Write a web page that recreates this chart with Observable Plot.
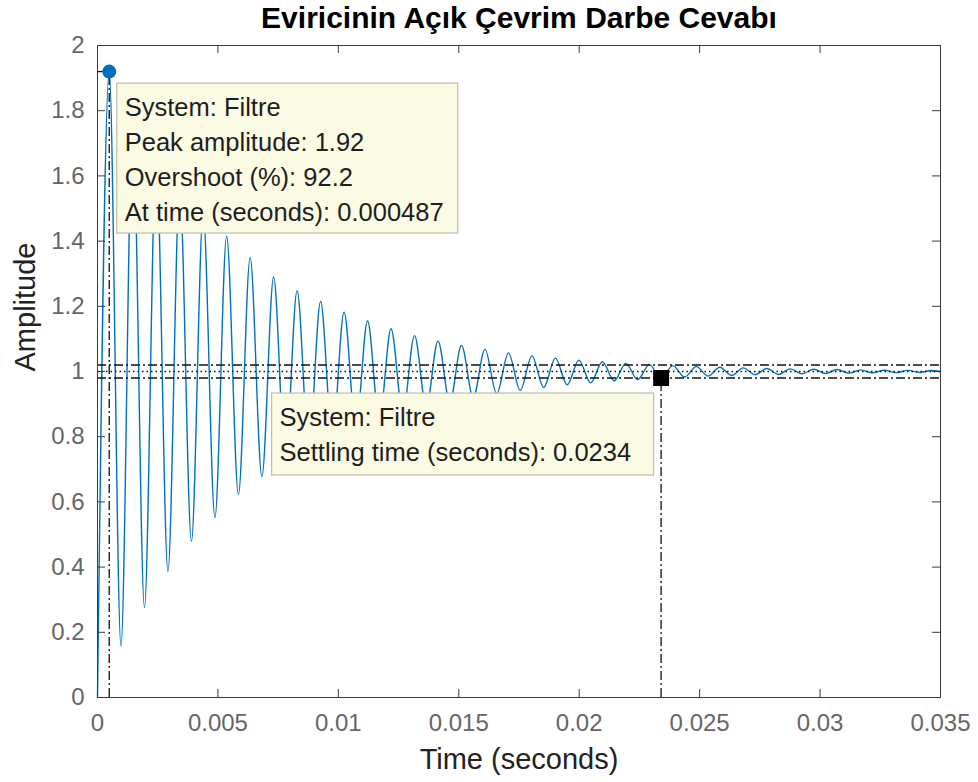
<!DOCTYPE html>
<html><head><meta charset="utf-8">
<script src="https://cdn.jsdelivr.net/npm/d3@7"></script>
<script src="https://cdn.jsdelivr.net/npm/@observablehq/plot@0.6"></script>
<style>html,body{margin:0;padding:0;background:#fff;}</style>
</head><body><div id="chart"></div>
<script>
// ---- data ----
const titleText = "Eviricinin Açık Çevrim Darbe Cevabı";
const xLabel = "Time (seconds)";
const yLabel = "Amplitude";
const xTicks = [0, 0.005, 0.01, 0.015, 0.02, 0.025, 0.03, 0.035];
const xTickLabels = ["0", "0.005", "0.01", "0.015", "0.02", "0.025", "0.03", "0.035"];
const yTicks = [0, 0.2, 0.4, 0.6, 0.8, 1, 1.2, 1.4, 1.6, 1.8, 2];
const yTickLabels = ["0", "0.2", "0.4", "0.6", "0.8", "1", "1.2", "1.4", "1.6", "1.8", "2"];

const peakTimes = [0.000487, 0.001462, 0.002437, 0.003412, 0.004387, 0.005362, 0.006337, 0.007312, 0.008287, 0.009262,
  0.010237, 0.011212, 0.012187, 0.013162, 0.014137, 0.015112, 0.016087, 0.017062, 0.018037, 0.019012,
  0.019987, 0.020962, 0.021937, 0.022912, 0.023887, 0.024862, 0.025837, 0.026812, 0.027787, 0.028762,
  0.029737, 0.030712, 0.031687, 0.032662, 0.033637, 0.034612];
const peakValues = [1.92, 1.78, 1.66, 1.565, 1.485, 1.415, 1.35, 1.29, 1.248, 1.215,
  1.182, 1.155, 1.131, 1.11, 1.094, 1.08, 1.068, 1.057, 1.048, 1.041,
  1.035, 1.03, 1.025, 1.021, 1.018, 1.015, 1.013, 1.011, 1.009, 1.008,
  1.007, 1.006, 1.005, 1.004, 1.0035, 1.003];
const troughTimes = [0.000975, 0.00195, 0.002925, 0.0039, 0.004875, 0.00585, 0.006825, 0.0078, 0.008775, 0.00975,
  0.010725, 0.0117, 0.012675, 0.01365, 0.014625, 0.0156, 0.016575, 0.01755, 0.018525, 0.0195,
  0.020475, 0.02145, 0.022425, 0.0234, 0.024375, 0.02535, 0.026325, 0.0273, 0.028275, 0.02925,
  0.030225, 0.0312, 0.032175, 0.03315, 0.034125];
const troughValues = [0.158, 0.276, 0.386, 0.479, 0.552, 0.623, 0.678, 0.725, 0.765, 0.798,
  0.828, 0.852, 0.873, 0.891, 0.906, 0.92, 0.932, 0.942, 0.951, 0.959,
  0.965, 0.971, 0.975, 0.979, 0.983, 0.986, 0.988, 0.99, 0.991, 0.993,
  0.994, 0.995, 0.996, 0.9965, 0.997];
const startPoint = {t: 0, a: 0};
const endPoint = {t: 0.035, a: 1.0};

const steadyState = 1.0;
const settleBand = [1.02, 0.98];
const peakTime = 0.000487, peakAmp = 1.92;
const settleTime = 0.0234, settleAmp = 0.98;
const tipPeakLines = ["System: Filtre", "Peak amplitude: 1.92", "Overshoot (%): 92.2", "At time (seconds): 0.000487"];
const tipSettleLines = ["System: Filtre", "Settling time (seconds): 0.0234"];

// build response table
const response = [startPoint];
for (let i = 0; i < peakTimes.length; i++) {
  response.push({t: peakTimes[i], a: peakValues[i]});
  if (i < troughTimes.length) response.push({t: troughTimes[i], a: troughValues[i]});
}
response.push(endPoint);

const W = 978, H = 782, mL = 97, mR = 38, mT = 45, mB = 85;
const innerW = W - mL - mR, innerH = H - mT - mB;
const TK = 8;
const blue = "#0072BD";
const dashDot = "9,3,2,3";
const FONT = "'Liberation Sans', Arial, Helvetica, sans-serif";

const plot = Plot.plot({
  width: W, height: H,
  marginLeft: mL, marginRight: mR, marginTop: mT, marginBottom: mB,
  style: {fontFamily: FONT, background: "#fff", overflow: "visible"},
  x: {domain: [0, 0.035]},
  y: {domain: [0, 2]},
  marks: [
    Plot.line(response, {x: "t", y: "a", stroke: blue, strokeWidth: 1.4, curve: "monotone-x"}),
    Plot.ruleY(settleBand, {stroke: "#111", strokeWidth: 1.3, strokeDasharray: dashDot}),
    Plot.ruleY([steadyState], {stroke: "#111", strokeWidth: 1.3, strokeDasharray: "1.5,3"}),
    Plot.ruleX([peakTime], {y1: 0, y2: peakAmp, stroke: "#111", strokeWidth: 1.3, strokeDasharray: dashDot}),
    Plot.ruleY([peakAmp], {x1: 0, x2: peakTime, stroke: "#111", strokeWidth: 1.3, strokeDasharray: dashDot}),
    Plot.ruleX([settleTime], {y1: 0, y2: settleAmp, stroke: "#111", strokeWidth: 1.3, strokeDasharray: dashDot}),
    Plot.dot([{t: peakTime, a: peakAmp}], {x: "t", y: "a", r: 7, fill: blue}),
    Plot.dot([{t: settleTime, a: settleAmp}], {x: "t", y: "a", symbol: "square", r: 9, fill: "#000"}),
    Plot.frame({stroke: "#3a3a3a", strokeWidth: 1}),
    // inward ticks on all four sides
    Plot.ruleX(xTicks.slice(1, -1), {insetTop: innerH - TK, stroke: "#3a3a3a"}),
    Plot.ruleX(xTicks.slice(1, -1), {insetBottom: innerH - TK, stroke: "#3a3a3a"}),
    Plot.ruleY(yTicks.slice(1, -1), {insetRight: innerW - TK, stroke: "#3a3a3a"}),
    Plot.ruleY(yTicks.slice(1, -1), {insetLeft: innerW - TK, stroke: "#3a3a3a"}),
    Plot.axisX(xTicks, {tickSize: 0, tickPadding: 16, fontSize: 24, fill: "#666", label: null,
      tickFormat: d => xTickLabels[xTicks.indexOf(d)]}),
    Plot.axisY(yTicks, {tickSize: 0, tickPadding: 13, fontSize: 24, fill: "#666", label: null,
      tickFormat: d => yTickLabels[yTicks.indexOf(d)]}),
    Plot.text([xLabel], {frameAnchor: "bottom", dy: 62, lineAnchor: "middle", fontSize: 29, fill: "#222"}),
    Plot.text([yLabel], {frameAnchor: "left", dx: -72, rotate: -90, fontSize: 29, fill: "#222"}),
    Plot.text([titleText], {frameAnchor: "top", dy: -27, lineAnchor: "middle", fontSize: 30, fontWeight: "bold", fill: "#000"})
  ]
});

document.getElementById("chart").appendChild(plot);

// data tips anchored at their data points via the plot's scales
const sx = plot.scale("x"), sy = plot.scale("y");
const svg = d3.select(plot);
function dataTip(t, a, lines, offX, offY, w, h) {
  const ax = sx.apply(t), ay = sy.apply(a);
  const g = svg.append("g").attr("text-anchor", "start");
  g.append("rect").attr("x", ax + offX).attr("y", ay + offY).attr("width", w).attr("height", h)
    .attr("fill", "#fbfbe3").attr("stroke", "#bdbdb0").attr("stroke-width", 1.2);
  lines.forEach((s, i) => {
    g.append("text").attr("x", ax + offX + 8).attr("y", ay + offY + 24 + i * 35)
      .attr("dy", "0.35em").attr("font-size", 25.5).attr("fill", "#1e1e1e")
      .attr("text-anchor", "start").attr("font-family", FONT).text(s);
  });
}
dataTip(peakTime, peakAmp, tipPeakLines, 8, 12, 341, 150);
dataTip(settleTime, settleAmp, tipSettleLines, -389, 15.5, 382, 82);
</script>
</body></html>
